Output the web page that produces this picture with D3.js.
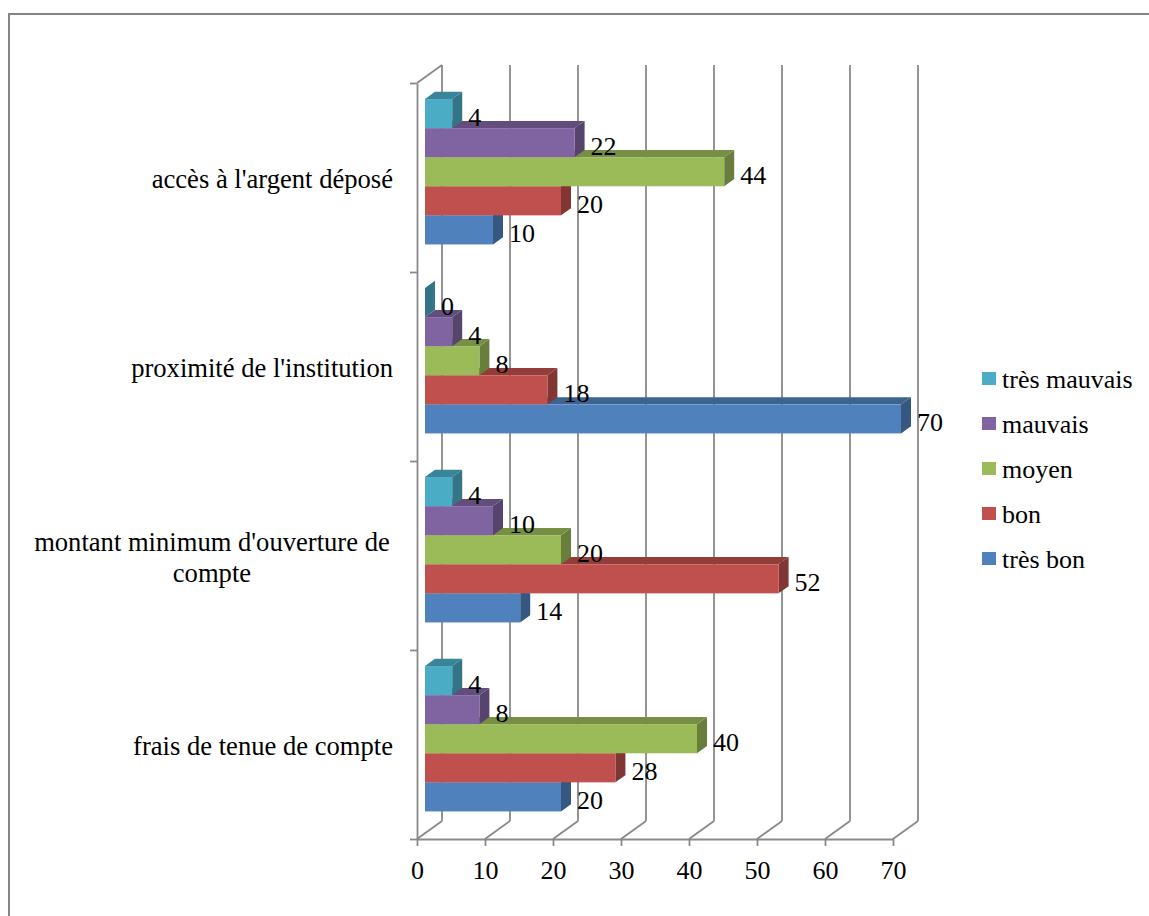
<!DOCTYPE html>
<html>
<head>
<meta charset="utf-8">
<script src="https://cdn.jsdelivr.net/npm/d3@7"></script>
<style>body { margin: 0; background: #fff; }</style>
</head>
<body>
<div id="chart"></div>
<script>
// categories, bottom to top (Excel order)
const categories = [
  "frais de tenue de compte",
  "montant minimum d'ouverture de compte",
  "proximité de l'institution",
  "accès à l'argent déposé",
];
const categoryLines = [
  ["frais de tenue de compte"],
  ["montant minimum d'ouverture de", "compte"],
  ["proximité de l'institution"],
  ["accès à l'argent déposé"],
];

// series, bottom to top inside each group
const series = ["très bon", "bon", "moyen", "mauvais", "très mauvais"];
const tresBon     = [20, 14, 70, 10];
const bon         = [28, 52, 18, 20];
const moyen       = [40, 20,  8, 44];
const mauvais     = [ 8, 10,  4, 22];
const tresMauvais = [ 4,  4,  0,  4];
const seriesValues = [tresBon, bon, moyen, mauvais, tresMauvais];
const colors = ["#4F81BD", "#C0504D", "#9BBB59", "#8064A2", "#4BACC6"];

const xTicks = [0, 10, 20, 30, 40, 50, 60, 70];

const W = 1149, H = 916;
const DX = 25, DY = -18;      // depth of the 3-D box
const Z0 = 0.32, Z1 = 0.72;   // depth range of the bars
const grid = "#898989";
const FONT = '"Liberation Serif"';

const svg = d3.select("#chart")
  .append("svg")
  .attr("width", W)
  .attr("height", H);

// every text element gets the font directly
const label = (sel, size = 26) => sel.attr("font-family", FONT).attr("font-size", size).attr("fill", "#000");

// outer chart border (runs off the picture right and bottom)
svg.append("rect")
  .attr("x", 9).attr("y", 14)
  .attr("width", 1300).attr("height", 1000)
  .attr("fill", "none")
  .attr("stroke", "#868686")
  .attr("stroke-width", 2);

const x = d3.scaleLinear().domain([0, 70]).range([417, 893]);
const y = d3.scaleBand().domain(categories).range([839, 83]);
const ys = d3.scaleBand().domain(series).range([y.bandwidth(), 0]).paddingOuter(0.75);
const yEdge = d3.scaleLinear().domain([0, categories.length]).range([839, 83]);

const px = (v, z) => x(v) + z * DX;
const py = (yy, z) => yy + z * DY;

// back wall and floor
const walls = svg.append("g").attr("stroke", grid).attr("stroke-width", 1.8).attr("fill", "none");
walls.selectAll("line.back")
  .data(xTicks)
  .join("line")
  .attr("class", "back")
  .attr("x1", d => px(d, 1)).attr("x2", d => px(d, 1))
  .attr("y1", py(yEdge(0), 1)).attr("y2", py(yEdge(categories.length), 1));
walls.selectAll("line.floor")
  .data(xTicks)
  .join("line")
  .attr("class", "floor")
  .attr("x1", d => px(d, 0)).attr("x2", d => px(d, 1))
  .attr("y1", py(yEdge(0), 0)).attr("y2", py(yEdge(0), 1));
walls.append("line")
  .attr("x1", px(0, 0)).attr("x2", px(0, 1))
  .attr("y1", yEdge(categories.length)).attr("y2", py(yEdge(categories.length), 1));

// value axis
const xAxis = svg.append("g")
  .attr("transform", `translate(0,${yEdge(0)})`)
  .call(d3.axisBottom(x).tickValues(xTicks).tickSize(7).tickSizeOuter(0).tickPadding(15));
xAxis.selectAll("path, line").attr("stroke", grid).attr("stroke-width", 1.8);
xAxis.selectAll("text").call(label);

// category axis (ticks at band edges)
const yAxis = svg.append("g")
  .attr("transform", `translate(${x(0)},0)`)
  .call(d3.axisLeft(yEdge).ticks(categories.length).tickSize(7).tickSizeOuter(0).tickFormat(""));
yAxis.selectAll("path, line").attr("stroke", grid).attr("stroke-width", 1.8);

// category labels
const catG = svg.append("g");
categories.forEach((c, ci) => {
  const lines = categoryLines[ci];
  const cy = y(c) + y.bandwidth() / 2 + 10.5;
  if (lines.length === 1) {
    catG.append("text")
      .call(label, 26.6)
      .attr("x", 393).attr("y", cy)
      .attr("text-anchor", "end")
      .text(lines[0]);
  } else {
    const t = catG.append("text").call(label, 26.6).attr("text-anchor", "middle");
    lines.forEach((l, li) => {
      t.append("tspan")
        .attr("x", 0)
        .attr("y", cy - 15.5 + li * 31)
        .text(l);
    });
    const w = d3.max(t.selectAll("tspan").nodes(), n => n.getComputedTextLength()) + 6.5;
    t.selectAll("tspan").attr("x", 393 - w / 2);
  }
});

// bars
const rows = [];
categories.forEach((c, ci) => series.forEach((s, si) => {
  rows.push({ c, s, si, v: seriesValues[si][ci] });
}));

const bw = ys.bandwidth();
const bars = svg.append("g")
  .selectAll("g")
  .data(rows)
  .join("g");

bars.append("path")
  .attr("fill", d => d3.color(colors[d.si]).darker(1.1))
  .attr("d", d => {
    const t = y(d.c) + ys(d.s), b = t + bw;
    return `M${px(d.v, Z0)},${py(t, Z0)}L${px(d.v, Z1)},${py(t, Z1)}L${px(d.v, Z1)},${py(b, Z1)}L${px(d.v, Z0)},${py(b, Z0)}Z`;
  });
bars.append("path")
  .attr("fill", d => d3.color(colors[d.si]).darker(0.75))
  .attr("d", d => {
    const t = y(d.c) + ys(d.s);
    return `M${px(0, Z0)},${py(t, Z0)}L${px(d.v, Z0)},${py(t, Z0)}L${px(d.v, Z1)},${py(t, Z1)}L${px(0, Z1)},${py(t, Z1)}Z`;
  });
bars.append("rect")
  .attr("x", px(0, Z0))
  .attr("y", d => py(y(d.c) + ys(d.s), Z0))
  .attr("width", d => x(d.v) - x(0))
  .attr("height", bw)
  .attr("fill", d => colors[d.si]);

// value labels
bars.append("text")
  .call(label)
  .attr("x", d => px(d.v, Z1) + 6)
  .attr("y", d => py(y(d.c) + ys(d.s), Z0) + bw / 2 + 12)
  .text(d => d.v);

// legend
const legend = svg.append("g")
  .selectAll("g")
  .data(series.slice().reverse())
  .join("g")
  .attr("transform", (d, i) => `translate(982,${372 + i * 45})`);
legend.append("rect")
  .attr("width", 14).attr("height", 13)
  .attr("fill", d => colors[series.indexOf(d)]);
legend.append("text")
  .call(label)
  .attr("x", 20).attr("y", 15.5)
  .text(d => d);
</script>
</body>
</html>
